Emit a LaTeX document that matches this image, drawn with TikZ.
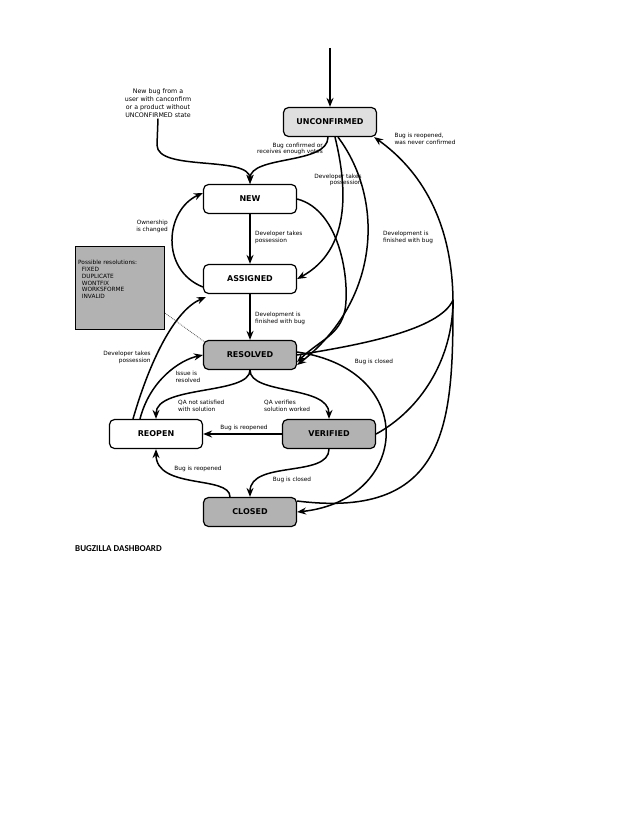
\documentclass[tikz,border=0pt]{standalone}
\usepackage{fontspec}
\setmainfont{DejaVu Sans}
\newfontfamily\carl{Carlito}
\usetikzlibrary{arrows.meta}
\begin{document}
\begin{tikzpicture}[x=1pt,y=-1pt,
  st/.style={draw,line width=1.2pt,rounded corners=5pt,minimum width=93pt,minimum height=29pt,font=\fontsize{8}{9}\selectfont\bfseries},
  lg/.style={fill=gray!25},
  dg/.style={fill=gray!60},
  ar/.style={line width=1.5pt,-{Stealth[length=9pt,width=7pt]}},
  pl/.style={line width=1.5pt},
  lb/.style={font=\fontsize{5.8}{6.8}\selectfont,align=left,inner sep=1pt}]
\useasboundingbox (0,0) rectangle (638,826);
\node[st,lg] (unc) at (330,122) {UNCONFIRMED};
\node[st,fill=white] (new) at (250,199) {NEW};
\node[st,fill=white] (asg) at (250,279) {ASSIGNED};
\node[st,dg] (res) at (250,355) {RESOLVED};
\node[st,fill=white] (reo) at (156,434) {REOPEN};
\node[st,dg] (ver) at (329,434) {VERIFIED};
\node[st,dg] (clo) at (250,512) {CLOSED};
\node[draw,line width=1.2pt,fill=gray!60,minimum width=89pt,minimum height=83pt,anchor=north west,inner sep=0pt] (box) at (75,246) {};
\node[lb,anchor=north west] (boxt) at (77,259) {Possible resolutions:\\\ \ FIXED\\\ \ DUPLICATE\\\ \ WONTFIX\\\ \ WORKSFORME\\\ \ INVALID};
\node[lb,align=center,font=\fontsize{6.3}{8}\selectfont] (newbug) at (158,103) {New bug from a\\user with canconfirm\\or a product without\\UNCONFIRMED state};
\coordinate (top) at (330,48);
\node[anchor=west,font=\carl\bfseries\fontsize{9}{10}\selectfont,inner sep=0pt] (title) at (75,549) {BUGZILLA DASHBOARD};
% edges
\draw[ar] (top) -- (unc);
\draw[ar] (newbug.south) -- (157,145) .. controls (157,172) and (250,155) .. (new.north);
\draw[ar] ([xshift=-2pt]unc.south) .. controls (328,165) and (250,155) .. (new.north);
\node[lb,align=right] (l1) at (290,149) {Bug confirmed or\\receives enough votes};
\draw[ar] ([xshift=5pt]unc.south) .. controls (348,190) and (350,250) .. (asg.east);
\node[lb,align=right] (l2) at (338,180) {Developer takes\\possession};
\draw[ar] ([xshift=8pt]unc.south) .. controls (385,200) and (380,300) .. ([yshift=-10pt]res.east);
\node[lb] (l3) at (408,237) {Development is\\finished with bug};
\coordinate (up) at (453,300);
\draw[ar] (ver.east) .. controls (420,410) and (453,360) .. (up) .. controls (452,220) and (420,170) .. ([xshift=-3pt]unc.south east);
\draw[pl] (res.east) .. controls (360,345) and (440,330) .. (up);
\draw[pl] ([yshift=11pt]clo.east) .. controls (450,520) and (453,420) .. (up);
\node[lb] (l4) at (425,139) {Bug is reopened,\\was never confirmed};
\draw[ar] (new) -- (asg);
\node[lb,anchor=west] (l5) at (254,237) {Developer takes\\possession};
\draw[ar] ([yshift=-8pt]asg.west) .. controls (160,270) and (165,210) .. ([yshift=6pt]new.west);
\node[lb,align=right] (l6) at (152,226) {Ownership\\is changed};
\draw[ar] (new.east) .. controls (340,210) and (350,280) .. (345,310) .. controls (340,335) and (320,340) .. ([yshift=-7pt]res.east);
\draw[ar] (asg) -- (res);
\node[lb,anchor=west] (l7) at (254,318) {Development is\\finished with bug};
\draw[ar] (res.south) .. controls (250,395) and (156,385) .. (reo.north);
\node[lb,anchor=west] (l8) at (177,406) {QA not satisfied\\with solution};
\draw[ar] (res.south) .. controls (250,395) and (329,385) .. (ver.north);
\node[lb,anchor=west] (l9) at (263,406) {QA verifies\\solution worked};
\draw[ar] ([yshift=3pt]res.east) .. controls (420,370) and (410,500) .. (clo.east);
\node[lb] (l10) at (374,362) {Bug is closed};
\draw[ar] (ver) -- (reo);
\node[lb] (l11) at (244,428) {Bug is reopened};
\draw[ar] (ver.south) .. controls (329,478) and (250,460) .. (clo.north);
\node[lb] (l12) at (292,480) {Bug is closed};
\draw[ar] ([xshift=-20pt]clo.north) .. controls (230,475) and (156,490) .. (reo.south);
\node[lb] (l13) at (198,469) {Bug is reopened};
\draw[ar] ([xshift=-23pt]reo.north) .. controls (150,360) and (175,310) .. ([xshift=3pt,yshift=-3pt]asg.south west);
\node[lb,align=right] (l14) at (127,357) {Developer takes\\possession};
\draw[ar] ([xshift=-16pt]reo.north) .. controls (150,380) and (180,360) .. (res.west);
\node[lb] (l15) at (188,377) {Issue is\\resolved};
\draw[densely dotted,gray!70!black,line width=0.8pt] (box.south east)++(0,-17) -- ([xshift=3pt,yshift=-3pt]res.north west);
\end{tikzpicture}
\end{document}
